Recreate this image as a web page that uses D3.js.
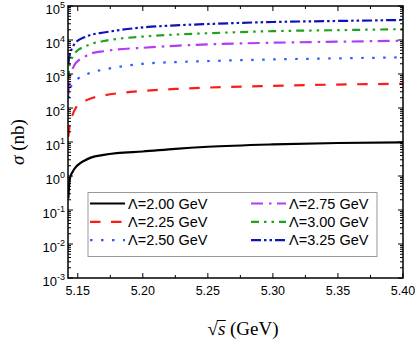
<!DOCTYPE html>
<html>
<head>
<meta charset="utf-8">
<script src="https://cdn.jsdelivr.net/npm/d3@7"></script>
<style>
    body { margin: 0; background: #fff; }
    svg { display: block; }
</style>
</head>
<body>
<div id="viz"></div>
<script>
// sqrt(s) in GeV
const energies = [5.1428, 5.1435, 5.1445, 5.146, 5.148, 5.150, 5.155, 5.160, 5.170, 5.180, 5.200, 5.225, 5.250, 5.300, 5.350, 5.400];

// sigma in nb, one list per cutoff
const sigma200 = [0.22, 0.63, 1.0, 1.32, 1.74, 2.09, 2.82, 3.47, 4.17, 4.68, 5.25, 6.31, 7.24, 8.51, 9.33, 9.77];
const sigma225 = [14.5, 25, 42, 63, 93, 120, 158, 190, 234, 269, 316, 363, 398, 447, 490, 513];
const sigma250 = [195, 282, 398, 501, 631, 724, 912, 1096, 1349, 1585, 1995, 2239, 2399, 2692, 2884, 3090];
const sigma275 = [251, 562, 1000, 1413, 1995, 2399, 3162, 3981, 4677, 5248, 5888, 6761, 7413, 8318, 8913, 9550];
const sigma300 = [708, 1585, 2512, 3162, 4169, 5012, 6310, 7586, 9333, 10715, 12589, 14454, 15849, 18197, 19498, 20893];
const sigma325 = [1995, 3162, 4467, 6026, 8318, 9550, 12023, 14125, 16596, 19055, 23442, 26915, 29512, 33884, 36308, 38905];

const lambdaLabels = ["Λ=2.00 GeV", "Λ=2.25 GeV", "Λ=2.50 GeV", "Λ=2.75 GeV", "Λ=3.00 GeV", "Λ=3.25 GeV"];
const xTicks = [5.15, 5.20, 5.25, 5.30, 5.35, 5.40];
const yExponents = [-3, -2, -1, 0, 1, 2, 3, 4, 5];

const width = 415;
const height = 341;
const plotLeft = 68, plotRight = 403, plotTop = 6, plotBottom = 278;

const svg = d3.select("#viz").append("svg")
    .attr("width", width)
    .attr("height", height);

const x = d3.scaleLinear().domain([5.1425, 5.40]).range([plotLeft, plotRight]);
const y = d3.scaleLog().domain([1e-3, 1e5]).range([plotBottom, plotTop]);

const series = [
    { values: sigma200, color: "#000000", dash: null },
    { values: sigma225, color: "#ff1a1a", dash: "10.5,10.5" },
    { values: sigma250, color: "#2b5cff", dash: "2.5,8.5" },
    { values: sigma275, color: "#b23cf5", dash: "12,6,2.5,5.5" },
    { values: sigma300, color: "#1fa31f", dash: "8,5,2.5,5,2.5,5" },
    { values: sigma325, color: "#0a14b8", dash: "10,3,2.5,3,2.5,3" }
];

const line = d3.line()
    .x((d, i) => x(energies[i]))
    .y(d => y(d))
    .curve(d3.curveMonotoneX);

svg.append("clipPath").attr("id", "plotclip")
    .append("rect").attr("x", plotLeft).attr("y", plotTop)
    .attr("width", plotRight - plotLeft).attr("height", plotBottom - plotTop);

svg.append("g").attr("clip-path", "url(#plotclip)")
    .selectAll("path")
    .data(series)
    .enter()
    .append("path")
    .attr("d", d => line(d.values))
    .attr("fill", "none")
    .attr("stroke", d => d.color)
    .attr("stroke-width", 2.2)
    .attr("stroke-dasharray", d => d.dash);

// frame
svg.append("rect")
    .attr("x", plotLeft).attr("y", plotTop)
    .attr("width", plotRight - plotLeft).attr("height", plotBottom - plotTop)
    .attr("fill", "none").attr("stroke", "#000").attr("stroke-width", 1.5);

const ticks = svg.append("g").attr("stroke", "#000").attr("stroke-width", 1);

// x ticks, inward on bottom and top
const xMinor = d3.range(5.175, 5.40, 0.05);
xTicks.forEach(t => {
    ticks.append("line").attr("x1", x(t)).attr("x2", x(t)).attr("y1", plotBottom).attr("y2", plotBottom - 5);
    ticks.append("line").attr("x1", x(t)).attr("x2", x(t)).attr("y1", plotTop).attr("y2", plotTop + 5);
});
xMinor.forEach(t => {
    ticks.append("line").attr("x1", x(t)).attr("x2", x(t)).attr("y1", plotBottom).attr("y2", plotBottom - 3);
    ticks.append("line").attr("x1", x(t)).attr("x2", x(t)).attr("y1", plotTop).attr("y2", plotTop + 3);
});

// y ticks, inward on left and right
yExponents.forEach(e => {
    const v = Math.pow(10, e);
    ticks.append("line").attr("x1", plotLeft).attr("x2", plotLeft + 5).attr("y1", y(v)).attr("y2", y(v));
    ticks.append("line").attr("x1", plotRight).attr("x2", plotRight - 5).attr("y1", y(v)).attr("y2", y(v));
    if (e < 5) {
        for (let k = 2; k < 10; k++) {
            ticks.append("line").attr("x1", plotLeft).attr("x2", plotLeft + 3).attr("y1", y(k * v)).attr("y2", y(k * v));
            ticks.append("line").attr("x1", plotRight).attr("x2", plotRight - 3).attr("y1", y(k * v)).attr("y2", y(k * v));
        }
    }
});

// tick labels
svg.append("g")
    .selectAll("text")
    .data(xTicks)
    .enter()
    .append("text")
    .attr("x", d => x(d))
    .attr("y", 295)
    .attr("text-anchor", "middle")
    .style("font-family", "'Liberation Sans', Arial, sans-serif")
    .style("font-size", "12.5px")
    .text(d => d.toFixed(2));

const yLabels = svg.append("g")
    .selectAll("text")
    .data(yExponents)
    .enter()
    .append("text")
    .attr("x", 65)
    .attr("y", d => y(Math.pow(10, d)) + 8)
    .attr("text-anchor", "end")
    .style("font-family", "'Liberation Sans', Arial, sans-serif")
    .style("font-size", "13px");
yLabels.append("tspan").text("10");
yLabels.append("tspan").attr("dy", -6).style("font-size", "9px").text(d => d);

// axis titles
const yTitle = svg.append("text")
    .attr("transform", "translate(24,142) rotate(-90)")
    .attr("text-anchor", "middle")
    .style("font-family", "'Liberation Serif', 'Times New Roman', serif")
    .style("font-size", "19px");
yTitle.append("tspan").style("font-style", "italic").text("σ");
yTitle.append("tspan").text(" (nb)");

const xTitle = svg.append("text")
    .attr("x", 243)
    .attr("y", 335)
    .attr("text-anchor", "middle")
    .style("font-family", "'Liberation Serif', 'Times New Roman', serif")
    .style("font-size", "19px");
xTitle.append("tspan").text("√");
xTitle.append("tspan").style("font-style", "italic").text("s");
xTitle.append("tspan").text(" (GeV)");

// overline of the root sign
const rootBox = xTitle.node().getExtentOfChar(0);
const sBox = xTitle.node().getExtentOfChar(1);
svg.append("line")
    .attr("x1", rootBox.x + rootBox.width - 1)
    .attr("x2", sBox.x + sBox.width + 0.5)
    .attr("y1", rootBox.y + 2.5)
    .attr("y2", rootBox.y + 2.5)
    .attr("stroke", "#000")
    .attr("stroke-width", 1);

// legend
svg.append("rect")
    .attr("x", 88).attr("y", 192.5)
    .attr("width", 289).attr("height", 64)
    .attr("fill", "#fff")
    .attr("stroke", "#999")
    .attr("stroke-width", 1);

const legend = svg.append("g")
    .selectAll("g")
    .data(series)
    .enter()
    .append("g")
    .attr("transform", (d, i) => "translate(" + (i < 3 ? 90 : 251) + "," + (203.5 + (i % 3) * 18.3) + ")");

legend.append("line")
    .attr("x1", 0).attr("x2", 35)
    .attr("y1", 0).attr("y2", 0)
    .attr("stroke", d => d.color)
    .attr("stroke-width", 2.2)
    .attr("stroke-dasharray", d => d.dash);

legend.append("text")
    .attr("x", 38)
    .attr("y", 5)
    .style("font-family", "'Liberation Sans', Arial, sans-serif")
    .style("font-size", "14.5px")
    .text((d, i) => lambdaLabels[i]);
</script>
</body>
</html>
